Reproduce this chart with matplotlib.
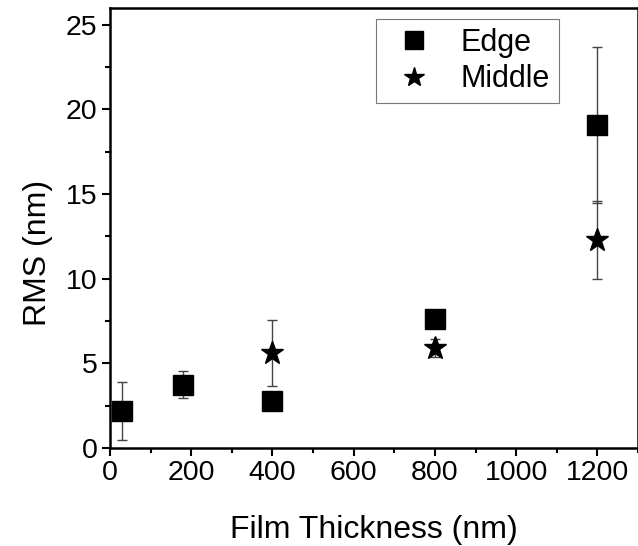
import numpy as np
import matplotlib.pyplot as plt
from matplotlib.ticker import MultipleLocator

plt.rcParams['font.family'] = ['Liberation Sans', 'DejaVu Sans']

# Data
edge_x = [30, 180, 400, 800, 1200]
edge_y = [2.2, 3.75, 2.8, 7.65, 19.1]
edge_err = [1.7, 0.8, 0.3, 0.4, 4.6]

middle_x = [400, 800, 1200]
middle_y = [5.6, 5.9, 12.3]
middle_err = [1.95, 0.55, 2.3]

fig = plt.figure(figsize=(6.38, 5.46), dpi=100)
ax = fig.add_axes([0.1724, 0.1795, 0.8276, 0.806])

ecol = '#444444'
ax.errorbar(edge_x, edge_y, yerr=edge_err, fmt='s', color='black', ms=14,
            ecolor=ecol, elinewidth=1, capsize=3.5, capthick=1, label='Edge', zorder=3)
ax.errorbar(middle_x, middle_y, yerr=middle_err, fmt='*', color='black', ms=17,
            ecolor=ecol, elinewidth=1, capsize=3.5, capthick=1, label='Middle', zorder=3)

ax.set_xlim(0, 1300)
ax.set_ylim(0, 26)
ax.xaxis.set_major_locator(MultipleLocator(200))
ax.xaxis.set_minor_locator(MultipleLocator(100))
ax.yaxis.set_major_locator(MultipleLocator(5))
ax.yaxis.set_minor_locator(MultipleLocator(2.5))
ax.tick_params(which='major', direction='out', length=6, width=1.5, labelsize=20.5, pad=3)
ax.tick_params(which='minor', direction='out', length=3.5, width=1.5)
for s in ax.spines.values():
    s.set_linewidth(1.8)

ax.set_xlabel('Film Thickness (nm)', fontsize=23)
ax.set_ylabel('RMS (nm)', fontsize=23)
ax.xaxis.set_label_coords(0.5, -0.152)
ax.yaxis.set_label_coords(-0.108, 0.443)

handles, labels = ax.get_legend_handles_labels()
handles = [h[0] for h in handles]
leg = ax.legend(handles, labels, loc='upper left', bbox_to_anchor=(0.504, 0.975),
                borderaxespad=0, fontsize=22, frameon=True, fancybox=False,
                edgecolor='#555555', handlelength=1.9, handletextpad=0.55,
                borderpad=0.3, labelspacing=0.2, markerscale=0.88)
leg.get_frame().set_linewidth(0.8)

plt.savefig('out.png', dpi=100)
